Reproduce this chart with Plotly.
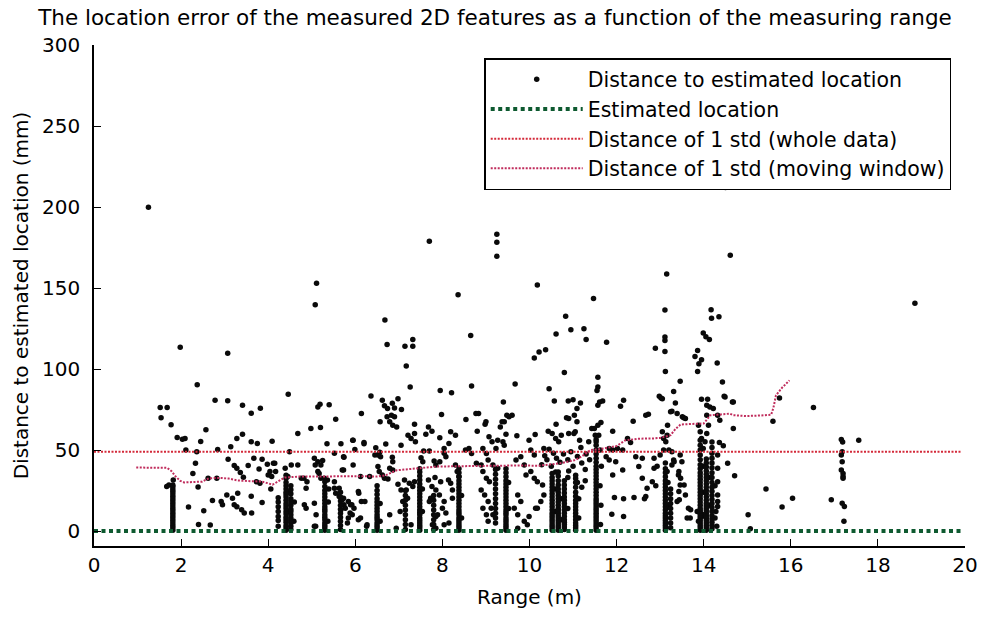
import plotly.graph_objects as go

# ---------------- data ----------------
title_text = "The location error of the measured 2D features as a function of the measuring range"
x_ticks = [0, 2, 4, 6, 8, 10, 12, 14, 16, 18, 20]
y_ticks = [0, 50, 100, 150, 200, 250, 300]

# isolated high points (range m, distance mm)
outlier_pairs = [
    (1.25, 199.8), (1.98, 113.5), (2.37, 90.3), (3.07, 109.8), (5.11, 153), (5.08, 139.7),
    (6.68, 130.3), (6.73, 115.1), (7.14, 114.1), (7.32, 118.2), (7.32, 114.1), (7.17, 101.8),
    (7.7, 178.9), (8.36, 145.9), (8.65, 120.7), (9.25, 183.2), (9.25, 178.2), (9.25, 169.6),
    (10.18, 151.8), (10.11, 106.8), (10.22, 110.5), (10.37, 111.9), (10.61, 121.7), (10.83, 132.6),
    (10.95, 124.2), (11.25, 124.8), (11.3, 118.2), (10.8, 97.9), (9.67, 90.8), (11.47, 143.6),
    (11.57, 95), (11.77, 116.6), (12.89, 112.9), (13.11, 119.7), (13.11, 117.6), (13.11, 110.8),
    (13.15, 158.6), (13.11, 136.4), (13.12, 98.5), (13.46, 92.4), (13.99, 122.3), (14.05, 120),
    (14.13, 118.2), (13.86, 111.4), (13.8, 107.7), (13.95, 105.7), (13.89, 103.3), (13.86, 98.5),
    (14.17, 136.6), (14.18, 131.3), (14.35, 132.3), (14.31, 103.7), (14.43, 92), (14.5, 212),
    (14.61, 170.3), (18.85, 140.6),
]

# loose points, range below 6 m
loose_pairs_a = [
    (1.52, 76.2), (1.68, 76.2), (1.54, 70), (1.77, 65.6), (1.91, 57.8), (2.03, 56.7), (2.09, 57.2),
    (2.57, 62.5), (2.45, 55.3), (2.11, 50), (2.36, 49), (2.84, 50.4), (2.33, 41.8), (2.27, 35.6),
    (2.39, 27.2), (2.62, 32.6), (2.82, 32.6), (1.82, 31.5), (1.67, 27.5), (1.72, 28.5), (2.17, 14.8),
    (2.72, 18.9), (2.92, 18.3), (2.52, 12.5), (2.40, 4.1), (2.67, 3.7), (2.78, 80.7), (3.07, 80.5),
    (3.41, 77.6), (3.61, 72.7), (3.82, 75.8), (4.46, 84.4), (3.28, 57.2), (3.41, 59.8), (3.61, 55.1),
    (3.75, 54.1), (3.14, 52), (4.09, 55.5), (4.68, 60.2), (4.98, 63.3), (5.2, 63.9), (5.14, 76.6),
    (5.19, 78.2), (5.4, 77.9), (5.55, 69), (5.35, 53.9), (5.67, 53.9), (5.95, 56), (5.52, 48),
    (5.74, 45.5), (5.99, 50.4), (3.08, 44.3), (3.22, 40.4), (3.28, 38.7), (3.54, 40.4), (3.79, 38.3),
    (3.86, 44.3), (3.98, 41.2), (4.12, 41.8), (3.67, 44.9), (3.36, 36.1), (3.43, 33.2), (4.0, 34.6),
    (2.95, 16.2), (3.05, 22.3), (3.18, 20.3), (3.22, 16.2), (3.28, 15), (3.39, 13.1), (3.45, 11.1),
    (3.62, 11.1), (3.3, 23.4), (3.61, 21.5), (3.86, 17.6), (4.06, 26), (4.04, 36.7), (4.08, 33.6),
    (4.15, 41.8), (4.17, 36.7), (3.73, 30.5), (3.81, 29.5), (4.49, 49), (4.53, 40.8), (4.68, 40.8),
    (4.39, 38.7), (4.45, 33.6), (4.82, 32.6), (4.89, 30.5), (4.87, 26.4), (5.06, 44.9), (5.08, 40.8),
    (5.14, 42.8), (5.25, 43.5), (5.14, 36.7), (5.17, 35.6), (5.21, 32.6), (5.36, 31.5), (5.52, 30.5),
    (5.63, 26.4), (5.7, 37.7), (5.06, 2.9), (4.83, 16.2), (4.87, 14.1), (5.1, 10), (4.76, 32.6),
    (5.06, 17.2), (5.09, 3), (5.21, 40.8), (5.29, 32.6), (5.52, 26.4), (5.55, 23.4), (5.63, 21.3),
    (5.7, 19.3), (5.74, 16.2), (5.67, 13.1), (5.89, 16.2), (5.97, 14.1), (5.93, 10), (5.73, 45.9),
    (5.73, 37.7), (5.95, 40.8), (5.94, 56.1), (5.92, 16.2), (5.88, 11.1), (5.84, 18.3), (5.77, 14.1),
    (5.73, 20.3), (4.46, 12), (4.46, 24), (4.59, 6), (4.6, 18), (5.37, 6), (5.38, 18), (5.39, 26),
    (5.82, 5), (5.84, 8),
]

# loose points, 6 m to 10 m
loose_pairs_b = [
    (6.14, 72.5), (6.36, 83.4), (6.62, 80.7), (6.67, 77.3), (6.57, 67.4), (6.2, 53.9), (6.47, 51.4),
    (6.56, 48.6), (6.58, 45.9), (6.74, 75.6), (6.85, 78.9), (6.98, 81.7), (6.9, 76), (7.06, 75),
    (6.73, 70.5), (6.83, 71.5), (6.9, 70.5), (6.79, 67.4), (6.86, 65.3), (6.95, 64.3), (7.36, 66),
    (7.98, 71.9), (8.54, 68.8), (7.68, 64.3), (7.76, 61.6), (7.21, 59.2), (7.28, 57.2), (7.36, 60.2),
    (7.38, 55.1), (7.62, 59.8), (7.94, 57.6), (8.19, 61.3), (8.3, 59.2), (8.15, 54.1), (6.2, 54.7),
    (6.7, 53.7), (7.05, 53), (7.57, 49.4), (7.7, 49.4), (6.52, 46.9), (6.45, 46.9), (6.85, 45.5),
    (6.86, 42.8), (6.79, 38.7), (6.86, 37.7), (6.52, 39.8), (6.55, 36.7), (6.62, 34.6), (6.67, 32.6),
    (6.75, 32.1), (7.51, 45.3), (7.55, 42.8), (7.81, 43.2), (7.85, 40.8), (7.94, 42.8), (8.04, 51),
    (8.04, 48), (8.08, 45.9), (8.3, 40.8), (8.34, 36.7), (8.38, 33.6), (8.53, 50), (8.61, 51),
    (6.12, 33.6), (6.33, 33.6), (7.13, 31.5), (7.24, 29.5), (7.36, 30.5), (7.17, 25.4), (7.32, 27.5),
    (6.98, 28.9), (7.05, 25.4), (7.68, 31.5), (7.83, 33), (7.96, 30.5), (7.76, 27.5), (7.85, 25.4),
    (7.93, 22.3), (8.14, 31.5), (8.19, 29.5), (8.23, 25.4), (8.23, 20.3), (8.04, 18.3), (8.0, 14.1),
    (7.89, 10), (8.08, 11.1), (8.15, 4.9), (8.04, 3.9), (7.73, 20.3), (7.7, 18.3), (7.85, 9),
    (7.09, 18.3), (7.2, 20.3), (7.28, 3.9), (6.79, 10), (7.03, 12.1), (6.94, 1.8), (6.07, 24.4),
    (6.14, 18.3), (6.22, 18.3), (6.07, 7), (6.26, 2.9), (6.08, 23.4), (6.27, 3.9), (6.12, 8),
    (7.77, 3.9), (7.85, 1.8), (7.95, 86.8), (8.21, 85.4), (8.67, 89.5), (7.26, 88.9), (8.83, 72.5),
    (9.48, 71.5), (9.6, 71.5), (9.37, 67.4), (9.33, 64.3), (8.98, 66), (8.8, 61.6), (9.07, 58.2),
    (9.14, 55.1), (9.27, 56.1), (9.39, 55.1), (9.46, 59.8), (9.71, 58.8), (9.99, 56.1), (10.13, 59.6),
    (9.4, 79.7), (8.77, 72.5), (9.0, 67.4), (9.53, 70.5), (9.42, 67.4), (8.67, 47.9), (8.93, 51),
    (9.01, 47.9), (9.23, 51), (9.42, 53), (9.8, 45.9), (9.88, 40.8), (9.69, 43.8), (10.03, 50),
    (10.11, 46.9), (8.78, 41.8), (8.89, 40.8), (9.05, 43.8), (9.16, 40.8), (9.27, 38.7), (8.93, 36.7),
    (9.01, 32.6), (9.08, 30.5), (9.92, 34.6), (10.03, 36.7), (10.11, 32.6), (10.18, 30.5), (10.3, 28.5),
    (10.33, 22.3), (10.26, 18.3), (10.18, 14.1), (8.89, 25.4), (8.97, 22.3), (9.05, 18.3), (8.93, 14.1),
    (9.12, 14.1), (9.01, 10), (9.16, 10), (9.05, 6), (9.73, 22.3), (9.8, 18.3), (9.65, 14.1),
    (9.73, 10), (9.88, 6), (9.99, 9), (9.95, 3.9), (10.14, 14.1), (9.73, 1.8), (6.57, 6), (6.57, 17),
    (7.54, 12), (7.54, 26), (8.44, 8), (8.44, 22), (9.52, 14), (9.52, 30),
]

# loose points, 10 m to 13 m
loose_pairs_c = [
    (10.33, 51), (10.43, 61.6), (10.52, 60.2), (10.6, 57.2), (10.67, 55.1), (10.73, 59.2), (10.9, 60.2),
    (11.02, 60.2), (11.43, 63.3), (11.51, 59.2), (11.36, 55.1), (10.45, 87.9), (10.57, 80.3),
    (10.89, 80.3), (11.0, 81.1), (11.17, 79.1), (11.09, 75.6), (11.03, 71.5), (10.9, 69.5),
    (10.85, 69.9), (10.61, 66), (11.09, 67.4), (11.05, 61.3), (11.15, 56.1), (10.45, 50.5),
    (10.55, 48), (10.62, 45), (10.7, 42.5), (10.78, 47.5), (10.88, 44), (10.95, 49), (11.0, 40),
    (11.1, 46), (11.2, 42), (11.28, 38), (10.4, 44), (10.5, 40), (10.6, 36.5), (10.9, 37),
    (11.18, 51.5), (11.3, 47.5), (11.38, 44), (10.35, 46.5), (10.28, 41), (11.1, 30), (11.2, 27),
    (11.28, 31), (11.57, 88.9), (11.55, 86.8), (11.57, 77.6), (11.61, 79.7), (11.68, 80.3),
    (12.16, 80.7), (12.09, 77), (11.64, 67), (11.57, 65.3), (11.49, 63.3), (11.59, 59.2),
    (11.53, 55.1), (11.91, 61.6), (12.25, 57.2), (12.32, 54.7), (11.83, 51), (11.91, 50), (12.02, 51),
    (12.14, 50), (11.76, 45.9), (11.83, 43.8), (11.98, 42.8), (12.14, 37.7), (12.44, 45.9),
    (12.59, 44.9), (12.51, 39.8), (12.59, 32.6), (12.86, 44.9), (12.86, 38.7), (12.82, 30.5),
    (12.7, 26.4), (12.67, 21.3), (11.91, 34.6), (11.95, 20.7), (12.16, 19.9), (12.4, 20.7),
    (11.89, 10.4), (12.16, 9), (12.64, 20), (12.73, 72.1), (12.67, 71.5), (12.38, 67.8), (12.98, 83.2),
    (13.05, 81.7), (13.02, 82.2), (12.93, 40), (12.9, 28), (10.59, 12), (10.59, 26), (10.73, 7),
    (10.73, 20), (10.88, 14), (10.88, 33), (11.13, 8), (11.13, 20), (11.62, 50), (11.63, 4),
    (11.64, 16), (11.62, 28), (11.65, 40),
]

# loose points, beyond 13 m
loose_pairs_d = [
    (13.35, 79.1), (13.27, 73.9), (13.39, 72.5), (13.95, 81.3), (14.09, 81.3), (14.07, 77.6),
    (14.14, 76.6), (14.07, 71.5), (13.54, 69.9), (13.05, 61.3), (13.08, 57.2), (13.16, 59.2),
    (13.88, 65.3), (13.92, 61.3), (13.95, 57.2), (14.03, 55.1), (13.99, 51), (14.11, 65.3),
    (14.07, 60.2), (14.22, 75.6), (14.32, 71.5), (14.37, 68.4), (13.31, 86.2), (13.24, 73.6),
    (13.0, 46.9), (13.08, 50), (13.27, 49), (13.31, 43.8), (13.27, 40.8), (13.16, 36.7), (13.46, 46.9),
    (13.5, 42.8), (13.42, 34.6), (13.46, 28.5), (13.44, 19.3), (13.65, 14.1), (13.69, 8), (13.92, 11.1),
    (13.88, 6), (13.32, 42.8), (13.43, 36.7), (13.47, 32.6), (13.43, 24.4), (13.39, 18.3), (13.55, 28.5),
    (13.62, 8), (13.58, 22.3), (13.51, 70.5), (13.58, 69.5), (13.17, 65.3), (13.13, 55.1), (13.2, 50),
    (13.7, 13.1), (13.85, 12.1), (13.96, 9), (14.47, 83.2), (14.66, 79.7), (14.68, 63.3), (14.36, 54.7),
    (14.45, 52.7), (14.55, 41.8), (14.71, 34.2), (15.74, 82.2), (16.52, 76.2), (15.59, 67.8),
    (15.43, 26), (16.04, 20.3), (15.8, 14.8), (15.02, 10), (16.93, 19.3), (15.07, 1.4), (14.32, 47),
    (14.32, 38.7), (14.32, 30.5), (14.32, 22.3), (14.32, 18.3), (14.32, 15.2), (17.56, 56.1),
    (14.68, 79.7), (14.49, 82.8), (17.16, 56.5), (17.19, 55), (17.18, 49), (17.16, 46.9), (17.18, 42.8),
    (17.16, 37.7), (17.2, 35.6), (17.2, 33.6), (17.2, 32.6), (17.18, 17.2), (17.23, 15.2), (17.22, 6),
    (13.18, 15), (13.18, 30), (13.99, 10), (13.99, 24), (13.99, 40), (14.12, 16), (14.12, 33),
    (14.26, 8), (14.26, 28), (14.3, 3), (14.28, 12),
]

# dense vertical columns of measurements: one range value each, with the distances read along it
column_range = [1.81, 4.23, 4.41, 4.52, 5.30, 5.66, 6.50, 7.15, 7.48, 7.80, 8.38, 9.22, 9.46,
                10.52, 10.66, 10.80, 11.06, 11.53, 13.12, 13.24, 13.92, 14.06, 14.19]
column_dist = [
    [0.5, 2, 3.5, 5, 6.5, 8, 9.5, 11, 12.5, 14, 15.5, 17, 18.5, 20, 21.5, 23, 24.5, 26, 27.5, 28.5],
    [3, 6.5, 9, 12, 15, 18, 20.5],
    [0.5, 2, 3.5, 5.5, 7, 8.5, 10.5, 12, 14, 15.5, 17, 19, 21, 22.5, 24, 26, 28, 30, 32.5, 34.5],
    [1, 3, 5, 6.5, 8, 10, 12, 13.5, 16, 18, 20, 23, 25.5, 28],
    [0.5, 2, 3.5, 5, 7, 8.5, 10, 12, 13.5, 15, 17, 19, 21, 23, 25, 27.5, 30.5],
    [1, 3.5, 6, 8.5, 11, 13.5, 16, 18.5, 21, 24],
    [0.5, 2, 3.5, 5, 7, 8.5, 10, 12, 14, 16, 18, 20, 22.5, 25, 28],
    [1, 4, 7, 10, 13, 16, 19, 22, 25],
    [0.5, 2, 3.5, 5, 6.5, 8, 10, 11.5, 13, 15, 17, 19, 21, 23, 25, 27, 29, 31.5, 34, 36.5, 38.5],
    [1, 4, 7, 10, 13, 16, 19, 22],
    [0.5, 2, 3.5, 5, 6.5, 8, 10, 11.5, 13, 15, 17, 19, 21, 23, 25, 27, 29, 31, 33.5, 36, 38.5],
    [5, 8, 11, 14, 17, 20, 23, 26, 29, 32, 35, 38],
    [0.5, 2, 3.5, 5, 6.5, 8, 10, 11.5, 13, 15, 17, 19, 21, 23, 25, 27, 29, 31, 33.5, 36, 38.5],
    [0.5, 2, 3.5, 5, 6.5, 8, 9.5, 11, 13, 15, 17, 19, 21, 23, 25, 27, 29, 31, 33, 35.5],
    [0.5, 2, 3.5, 5, 6.5, 8, 9.5, 11, 12.5, 14, 16, 18, 20, 22, 24, 26, 28.5, 31, 34, 36.5],
    [1, 2.5, 4, 5.5, 7, 9, 11, 13, 15, 17, 19, 21, 23.5, 26, 28.5, 31],
    [0.5, 2, 3.5, 5, 7, 9, 11, 13, 15, 17, 19, 21.5, 24, 27, 30, 32.5, 34.5],
    [0.5, 2, 3.5, 5, 6.5, 8, 9.5, 11, 12.5, 14, 15.5, 17, 18.5, 20, 22, 24, 26, 28, 30, 32, 34, 36, 38,
     40, 42.5, 45, 47.5, 50, 53, 56.5],
    [0.5, 2, 3.5, 5, 6.5, 8, 9.5, 11, 13, 15, 17, 19, 21, 23, 25, 27, 29, 31, 33.5, 36, 38.5, 42],
    [2, 5, 8, 11, 14, 17, 20, 23, 26],
    [0.5, 2, 3.5, 5, 6.5, 8, 9.5, 11, 12.5, 14, 16, 18, 20, 22, 24, 26, 28, 30, 32, 34, 36, 38.5, 41,
     44, 47, 50, 53, 56],
    [0.5, 2, 3.5, 5, 6.5, 8, 9.5, 11, 12.5, 14, 15.5, 17, 19, 21, 23, 25, 27, 29, 31, 33, 35, 37, 39.5,
     42, 44.5],
    [1.5, 3.5, 5.5, 7.5, 9.5, 12, 14.5, 17, 19.5, 22, 24.5, 27, 30, 33, 36, 39, 42, 45, 48, 51.5, 55],
]

# estimated location line (0 mm) and the whole-data 1 std line
estimated_range = [0, 19.9]
estimated_dist = [0, 0]
std_whole_range = [0, 19.9]
std_whole_dist = [49, 49]

# moving-window 1 std curve
std_moving_range = [0.97, 1.2, 1.45, 1.68, 1.78, 1.88, 1.98, 2.07, 2.3, 2.48, 2.64, 2.9, 3.09, 3.3,
                    3.6, 3.85, 4.0, 4.1, 4.22, 4.38, 4.7, 5.2, 5.7, 6.2, 6.5, 6.7, 6.95, 7.3, 7.86,
                    8.3, 8.77, 9.3, 9.8, 10.2, 10.44, 10.7, 11.05, 11.25, 11.4, 11.6, 11.8, 12.0,
                    12.2, 12.5, 12.86, 13.0, 13.24, 13.35, 13.47, 13.7, 14.0, 14.08, 14.15, 14.4,
                    14.6, 14.68, 14.98, 15.3, 15.55, 15.6, 15.66, 15.8, 15.97]
std_moving_dist = [39.2, 39.2, 39.3, 39, 37, 33.5, 31, 30, 30.3, 30.5, 32.6, 32.8, 32.4, 31.2,
                   30.8, 30.5, 29.5, 28.6, 30.5, 33, 33.6, 33.8, 33.6, 33.9, 33.6, 34.5, 37.5, 38.5,
                   39.8, 40, 40.3, 40.3, 40.5, 40.3, 40.8, 41.8, 43.8, 47, 50, 50.5, 51.5, 52.5,
                   56, 57, 57.2, 57.5, 59.2, 63, 65.8, 66.2, 66.4, 69, 71.5, 72, 72.5, 71.5, 71,
                   71.3, 71.8, 76, 83.8, 88.5, 93]

# ---------------- assemble ----------------
pt_range, pt_dist = [], []
for group in (outlier_pairs, loose_pairs_a, loose_pairs_b, loose_pairs_c, loose_pairs_d):
    for r, d in group:
        pt_range.append(r)
        pt_dist.append(d)
for r, ds in zip(column_range, column_dist):
    for d in ds:
        pt_range.append(r)
        pt_dist.append(d)

FONT = "DejaVu Sans, Verdana, sans-serif"

fig = go.Figure()
fig.add_trace(go.Scatter(
    x=pt_range, y=pt_dist, mode="markers", name="Distance to estimated location",
    marker=dict(color="#0a0a0a", size=5.5, line=dict(width=0)),
))
fig.add_trace(go.Scatter(
    x=estimated_range, y=estimated_dist, mode="lines", name="Estimated location",
    line=dict(color="#0e5a30", width=4, dash="4px,3.5px"),
))
fig.add_trace(go.Scatter(
    x=std_whole_range, y=std_whole_dist, mode="lines", name="Distance of 1 std (whole data)",
    line=dict(color="#d42a3a", width=2, dash="2px,1.5px"),
))
fig.add_trace(go.Scatter(
    x=std_moving_range, y=std_moving_dist, mode="lines", name="Distance of 1 std (moving window)",
    line=dict(color="#c02c5c", width=2, dash="2px,1.5px"),
))

fig.update_layout(
    width=990, height=617,
    margin=dict(l=94, r=16, t=45, b=69),
    paper_bgcolor="white", plot_bgcolor="white",
    font=dict(family=FONT, size=20, color="black"),
    title=dict(text=title_text, x=0.5, xref="container", xanchor="center",
               y=0.972, yref="container", yanchor="middle",
               font=dict(family=FONT, size=21.5, color="black")),
    showlegend=True,
    legend=dict(x=0.448, y=0.974, xanchor="left", yanchor="top",
                bgcolor="white", bordercolor="black", borderwidth=1.5,
                font=dict(family=FONT, size=20.5, color="black"),
                itemwidth=92, tracegroupgap=0),
)
fig.update_xaxes(
    range=[0, 20], tickvals=x_ticks, ticktext=[str(v) for v in x_ticks],
    ticks="inside", ticklen=7, tickwidth=1.2, tickcolor="black",
    showline=True, linecolor="black", linewidth=1.5, mirror=False,
    showgrid=False, zeroline=False,
    title=dict(text="Range (m)", font=dict(family=FONT, size=20), standoff=14),
    tickfont=dict(family=FONT, size=20),
)
fig.update_yaxes(
    range=[-9.22, 300], tickvals=y_ticks, ticktext=[str(v) for v in y_ticks],
    ticks="inside", ticklen=7, tickwidth=1.2, tickcolor="black",
    showline=True, linecolor="black", linewidth=1.5, mirror=False,
    showgrid=False, zeroline=False, ticklabelstandoff=8,
    title=dict(text="Distance to estimated location (mm)", font=dict(family=FONT, size=20), standoff=8),
    tickfont=dict(family=FONT, size=20),
)

fig.write_html("out.html")
